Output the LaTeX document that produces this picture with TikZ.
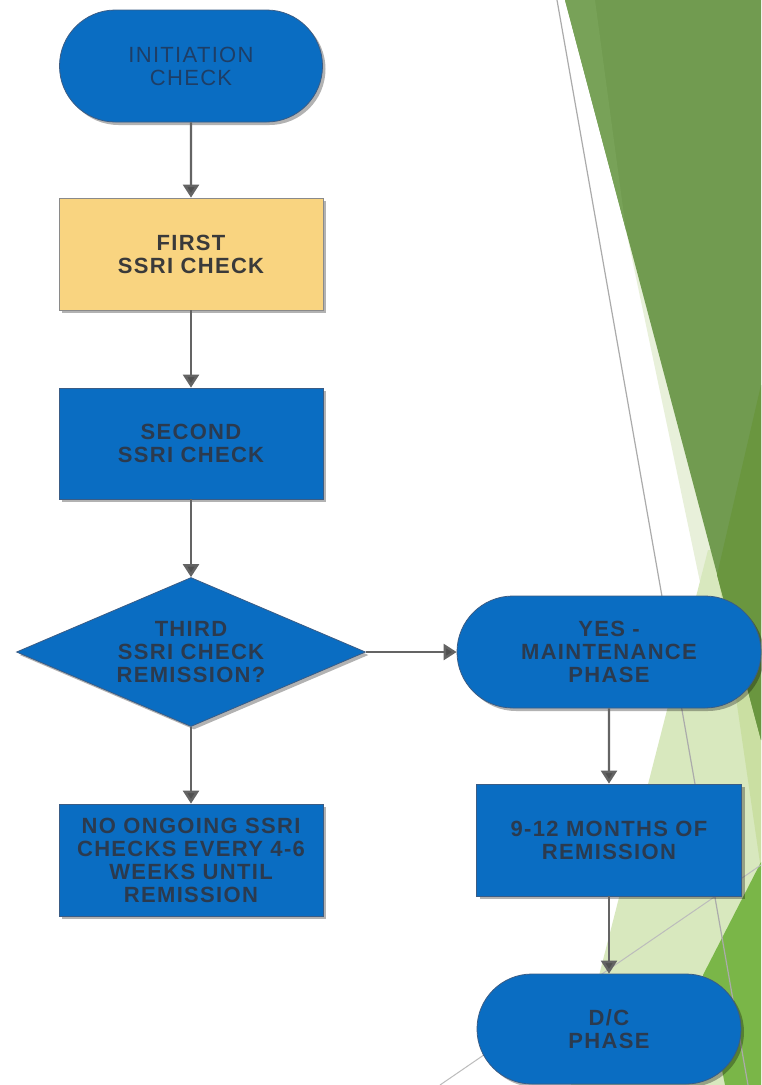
\documentclass[tikz,border=0pt]{standalone}
\usepackage{fontspec}
\setmainfont{Liberation Sans}
\newfontfamily\nfont[LetterSpace=6]{Liberation Sans}
\usetikzlibrary{shapes.misc,shapes.geometric,arrows.meta,shadows}
\definecolor{nblue}{HTML}{0A6DC2}
\definecolor{nedge}{HTML}{3A5C85}
\definecolor{ntext}{HTML}{2B3A4E}
\definecolor{inittext}{HTML}{1E3E66}
\definecolor{nyellow}{HTML}{F9D480}
\definecolor{ngray}{HTML}{8A8A8A}
\definecolor{ytext}{HTML}{3A3A3A}
\definecolor{arrgray}{HTML}{646464}
\definecolor{arrhead}{HTML}{505050}
\definecolor{dg}{HTML}{719B50}
\definecolor{dgdark}{HTML}{6A963F}
\definecolor{dglight}{HTML}{78A258}
\definecolor{sliver}{HTML}{E8F0DA}
\definecolor{lga}{HTML}{D8E8BE}
\definecolor{lgb}{HTML}{CADFA2}
\definecolor{brg}{HTML}{7AB648}
\definecolor{thinline}{HTML}{ABABAB}
\tikzset{
  shadowed/.style={drop shadow={shadow xshift=3pt,shadow yshift=-3pt,opacity=0.3,fill=black}},
  base/.style={shadowed, draw=nedge, line width=0.8pt, align=center, inner sep=0pt,
    font=\nfont\bfseries\fontsize{22}{23}\selectfont, text=ntext},
  term/.style={base, rounded rectangle, fill=nblue},
  proc/.style={base, rectangle, fill=nblue},
  dec/.style={base, diamond, aspect=2.34, fill=nblue},
  arr/.style={draw=arrgray, line width=2.4pt, -{Triangle[width=16pt,length=13pt,fill=arrhead]}},
}
\begin{document}
\begin{tikzpicture}[x=1pt,y=-1pt]
\useasboundingbox (0,0) rectangle (761,1085);
\fill[white] (0,0) rectangle (761,1085);
% background theme shapes
\fill[sliver] (626,230) -- (708,620) -- (761,620) -- (761,230) -- cycle;
\fill[lga] (708,550) -- (761,550) -- (761,1085) -- (571,1085) -- cycle;
\fill[lgb] (716,560) -- (761,560) -- (761,870) -- cycle;
\fill[dg] (565,0) -- (761,0) -- (761,740) -- cycle;
\fill[dgdark] (761,385) -- (761,740) -- (717,575) -- cycle;
\fill[dglight] (565,0) -- (595,0) -- (626,230) -- cycle;
\fill[brg] (761,862) -- (703,975) -- (725,1085) -- (761,1085) -- cycle;
\coordinate (l1a) at (557,0);
\coordinate (l1b) at (748,1085);
\coordinate (l2a) at (761,865);
\coordinate (l2b) at (440,1085);
\draw[draw=thinline, line width=1.2pt] (l1a) -- (l1b);
\draw[draw=thinline!80, line width=1pt] (l2a) -- (l2b);
% nodes
\node[term, minimum width=263pt, minimum height=112pt, text=inittext,
      font=\nfont\fontsize{22}{23}\selectfont] (init) at (191,66) {INITIATION\\CHECK};
\node[proc, fill=nyellow, draw=ngray, text=ytext, minimum width=264pt, minimum height=112pt] (first) at (191,254) {FIRST\\SSRI CHECK};
\node[proc, minimum width=264pt, minimum height=111pt] (second) at (191,443.5) {SECOND\\SSRI CHECK};
\node[dec, minimum width=349pt, minimum height=149pt] (third) at (191,652) {THIRD\\SSRI CHECK\\REMISSION?};
\node[proc, minimum width=264pt, minimum height=112pt] (noong) at (191,860) {NO ONGOING SSRI\\CHECKS EVERY 4-6\\WEEKS UNTIL\\REMISSION};
\node[term, minimum width=304pt, minimum height=112pt] (yes) at (609,652) {YES -\\MAINTENANCE\\PHASE};
\node[proc, minimum width=265pt, minimum height=112pt] (months) at (609,840) {9-12 MONTHS OF\\REMISSION};
\node[term, minimum width=264pt, minimum height=110pt] (dc) at (609,1029) {D/C\\PHASE};
% connectors
\draw[arr] (init) -- (first);
\draw[arr] (first) -- (second);
\draw[arr] (second) -- (third);
\draw[arr] (third) -- (noong);
\draw[arr] (third) -- (yes);
\draw[arr] (yes) -- (months);
\draw[arr] (months) -- (dc);
\end{tikzpicture}
\end{document}
